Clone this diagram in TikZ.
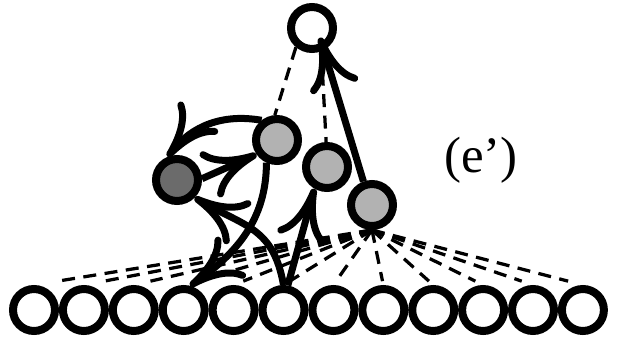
\documentclass[tikz,border=0pt]{standalone}
\usepackage{fontspec}
\setmainfont{Liberation Serif}
\usepackage{xcolor}
\usetikzlibrary{calc, arrows.meta}

\definecolor{lightnode}{gray}{0.70}
\definecolor{darknode}{gray}{0.42}

\begin{document}
\begin{tikzpicture}[x=0.02cm, y=-0.02cm,
		unit/.style={circle, draw, line width=0.16cm, minimum size=0.84cm, inner sep=0pt},
		link/.style={line width=0.065cm, dash pattern=on 0.26cm off 0.17cm},
		arr/.style={line width=0.14cm, -{Computer Modern Rightarrow[length=1.05cm, width=1cm]}}]
	\def\yIN{310};
	\def\dx{49.9};

	\useasboundingbox (0,0) rectangle (619,338);

	% units
	\begin{scope}
		\node[unit] (top) at (312,28) {};
		\node[unit, fill=lightnode] (g1) at (277,140) {};
		\node[unit, fill=lightnode] (g2) at (327,167) {};
		\node[unit, fill=lightnode] (g3) at (372,205) {};
		\node[unit, fill=darknode] (dark) at (177,180) {};

		\foreach \i in {1,...,12}
		{
			\node[unit] (in\i) at ({34+\dx*(\i-1)},\yIN) {};
		}
	\end{scope}

	\node[font=\fontsize{29}{33}\selectfont] (lbl) at (481,160) {(e’)};

	% dashed links
	\begin{scope}[link]
		\draw (top.230) -- (g1.95);
		\draw (top.-68) -- (g2.92);
		\foreach \i in {1,...,12}
		{
			\draw (g3.south) -- ($(g3.south)!0.93!(in\i.north)$);
		}
	\end{scope}

	% arrows
	\begin{scope}[arr]
		\draw (g1.128) to[out=170, in=52] (dark.112);
		\draw (dark.3) -- (g1.215);
		\draw (g1.245) to[out=-90, in=35] (in4.75);
		\draw (in6.north) to[out=100, in=-30, looseness=1.2] (dark.-45);
		\draw (in6.80) -- (g2.240);
		\draw[shorten >=-0.26cm] (g3.110) -- (top.-62);
	\end{scope}
\end{tikzpicture}
\end{document}
